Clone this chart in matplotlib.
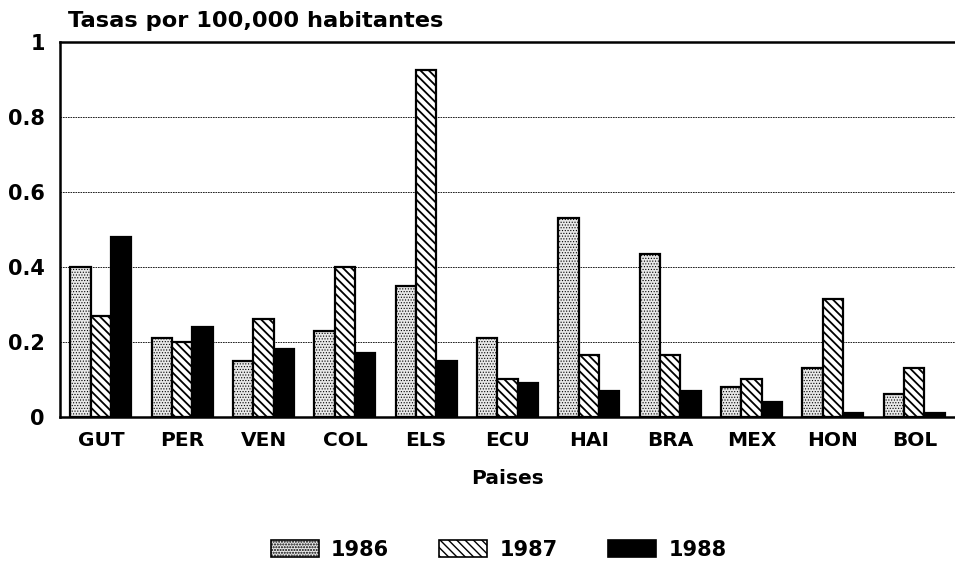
import matplotlib
matplotlib.use("Agg")
import matplotlib.pyplot as plt
import numpy as np
from matplotlib.patches import Patch

plt.rcParams['font.family'] = ['DejaVu Sans']

countries = ["GUT", "PER", "VEN", "COL", "ELS", "ECU", "HAI", "BRA", "MEX", "HON", "BOL"]
years = ["1986", "1987", "1988"]
v1986 = [0.40, 0.21, 0.15, 0.23, 0.35, 0.21, 0.53, 0.435, 0.08, 0.13, 0.06]
v1987 = [0.27, 0.20, 0.26, 0.40, 0.925, 0.10, 0.165, 0.165, 0.10, 0.315, 0.13]
v1988 = [0.48, 0.24, 0.18, 0.17, 0.15, 0.09, 0.07, 0.07, 0.04, 0.01, 0.01]
yticks = [0, 0.2, 0.4, 0.6, 0.8, 1]
ytick_labels = ["0", "0.2", "0.4", "0.6", "0.8", "1"]

fig = plt.figure(figsize=(9.55, 5.61), dpi=100)
ax = fig.add_axes([0.063, 0.257, 0.937, 0.668])

x = np.arange(len(countries))
w = 0.25
styles = [
    dict(facecolor="#e8e8e8", hatch="......", edgecolor="black"),
    dict(facecolor="white", hatch="\\\\\\\\", edgecolor="black"),
    dict(facecolor="black", edgecolor="black"),
]
hatch_lw = [0.5, 1.3, 1.0]
for i, (vals, st) in enumerate(zip([v1986, v1987, v1988], styles)):
    with plt.rc_context({'hatch.linewidth': hatch_lw[i]}):
        ax.bar(x + (i - 1) * w, vals, width=w, linewidth=1.6, zorder=3, **st)

ax.set_xlim(-0.5, 10.5)
ax.set_ylim(0, 1)
ax.set_yticks(yticks)
ax.set_yticklabels(ytick_labels, fontsize=15, fontweight="bold")
ax.set_xticks(x)
ax.set_xticklabels(countries, fontsize=14.5, fontweight="bold")
ax.tick_params(axis="y", length=0, pad=11)
ax.tick_params(axis="x", length=0, pad=10)
ax.yaxis.grid(True, linestyle=(0, (2, 1)), color="black", linewidth=0.6, zorder=0)
ax.set_axisbelow(True)
ax.spines["right"].set_visible(False)
for s in ["left", "bottom", "top"]:
    ax.spines[s].set_linewidth(1.8)
ax.set_xlabel("Paises", fontsize=14.5, fontweight="bold", labelpad=14)
fig.text(0.071, 0.962, "Tasas por 100,000 habitantes", fontsize=16.2, fontweight="bold",
         ha="left", va="center")

handles = []
for i, (y, st) in enumerate(zip(years, styles)):
    with plt.rc_context({'hatch.linewidth': hatch_lw[i]}):
        handles.append(Patch(label=y, linewidth=1.2, **st))
fig.legend(handles=handles, loc="center", bbox_to_anchor=(0.522, 0.02), ncol=3,
           frameon=False, prop={"weight": "bold", "size": 15},
           handlelength=2.3, handleheight=0.9, columnspacing=2.4, handletextpad=0.6)

fig.savefig("out.png", dpi=100)
